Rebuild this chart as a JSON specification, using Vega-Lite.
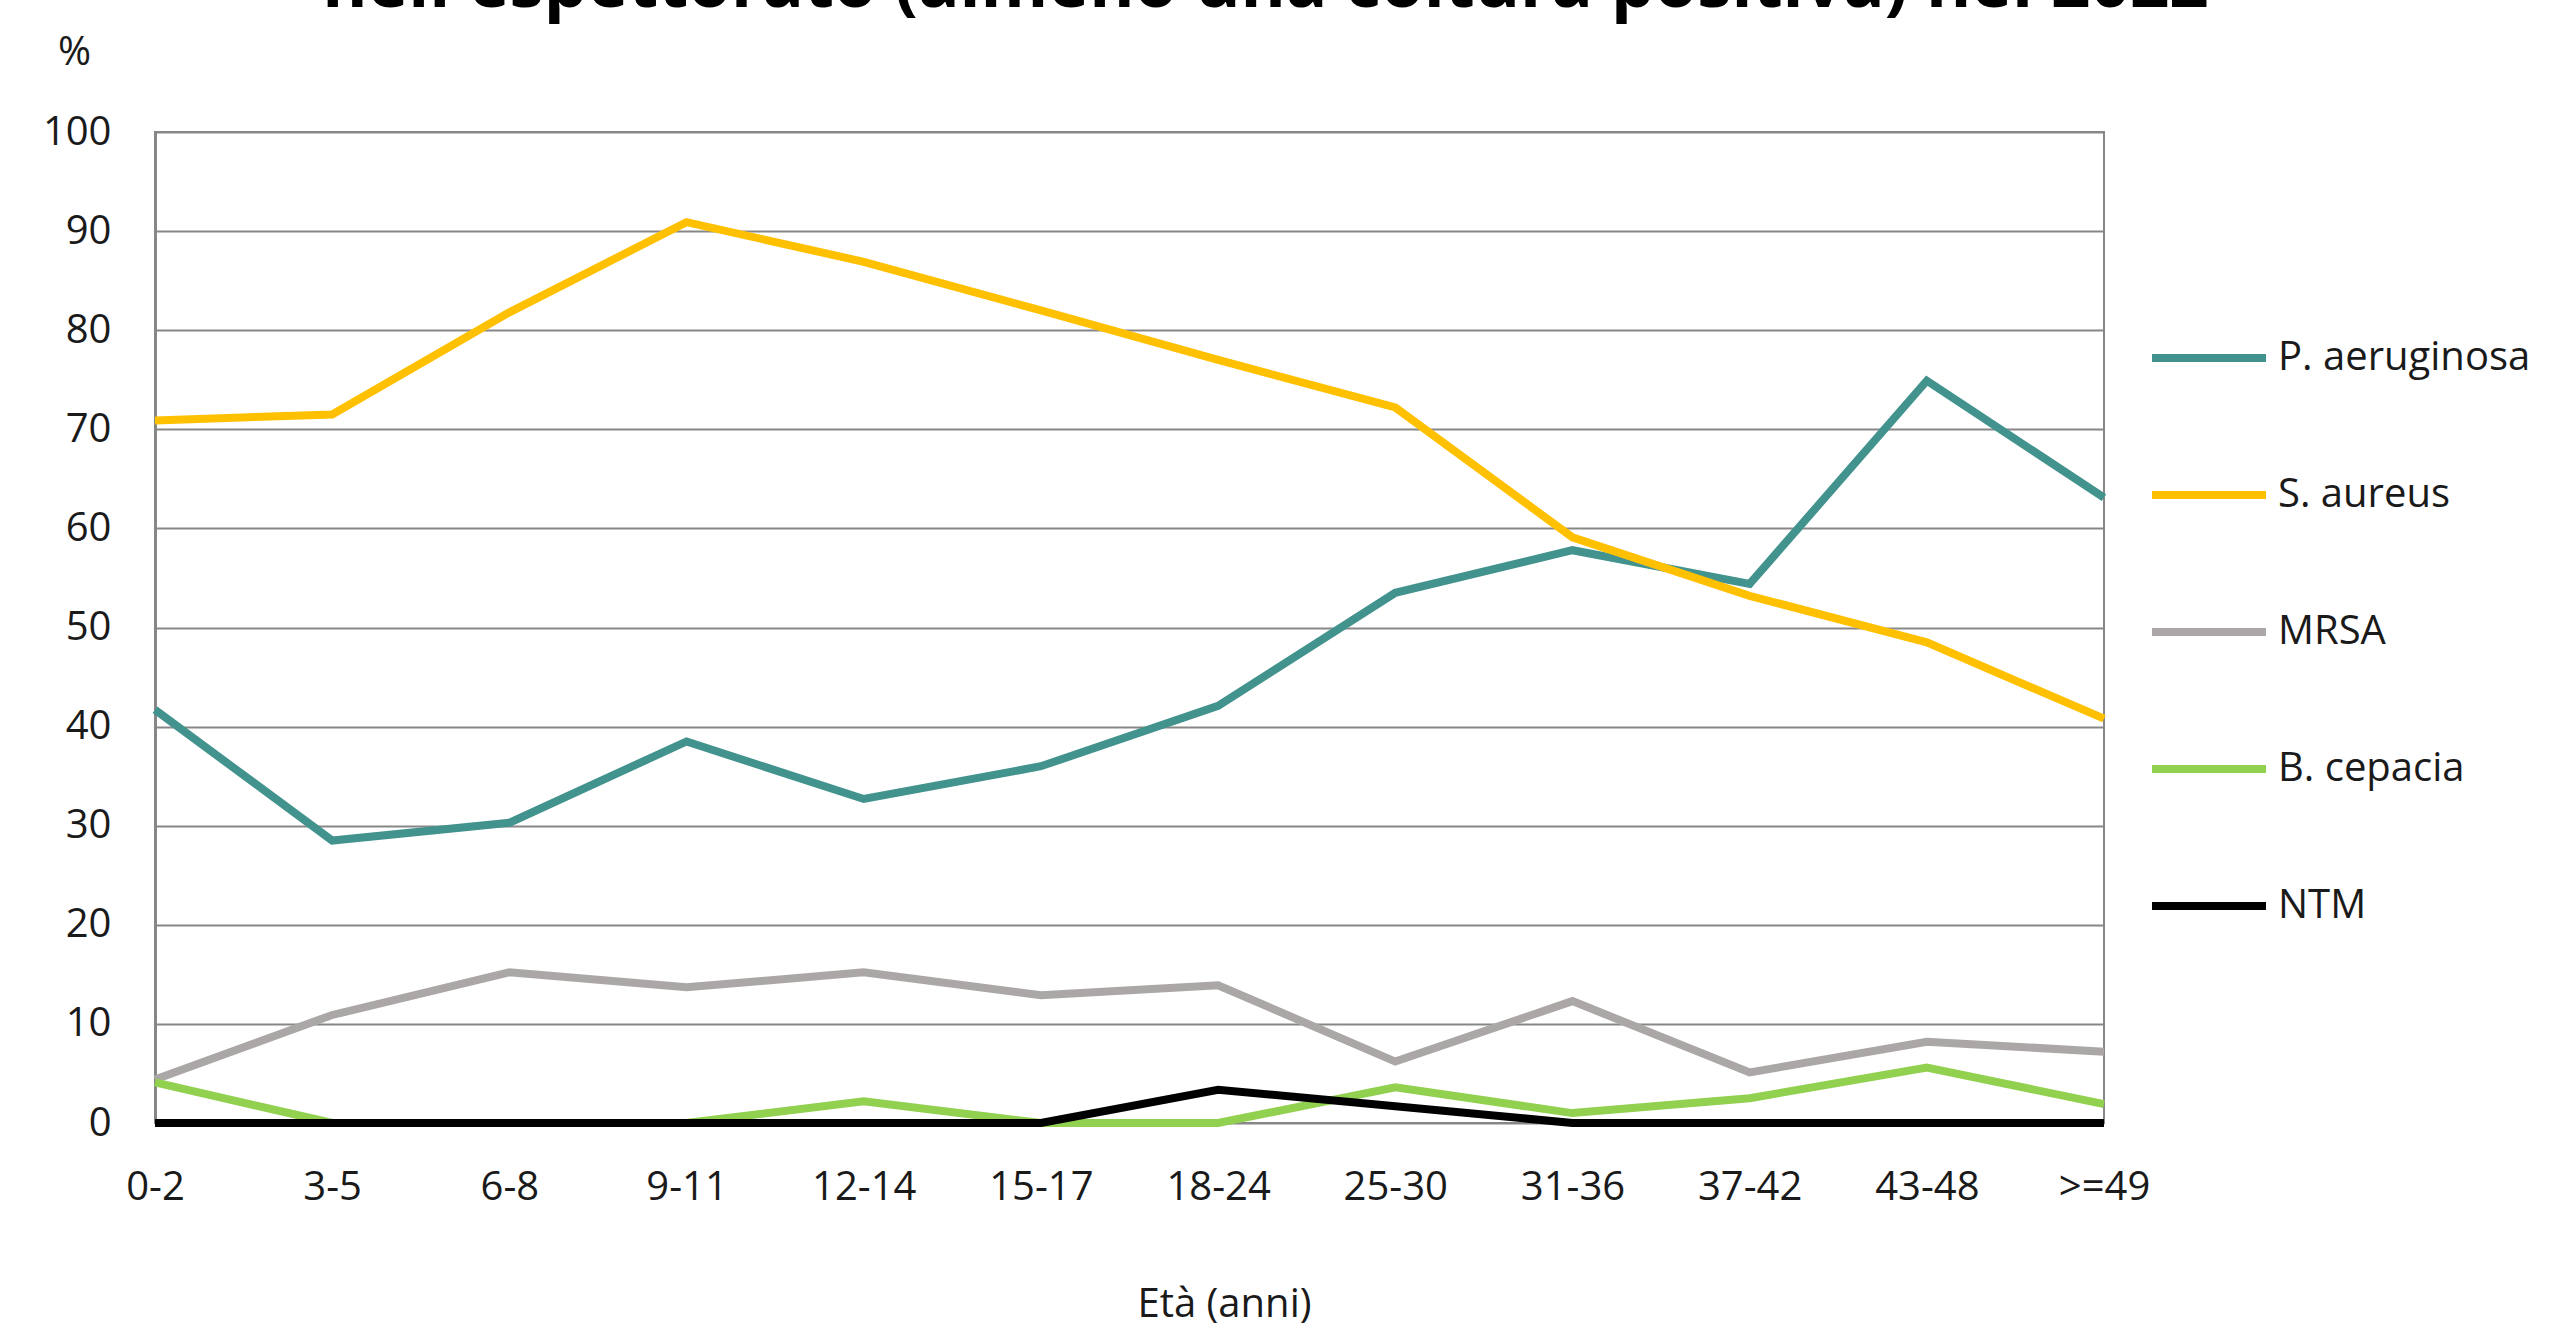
{
  "$schema": "https://vega.github.io/schema/vega-lite/v6.json",
  "width": 1949,
  "height": 991,
  "autosize": {"type": "none"},
  "padding": {"left": 155, "top": 132, "right": 457, "bottom": 203},
  "background": "white",
  "title": {
    "text": "nell'espettorato (almeno una coltura positiva) nel 2022",
    "font": "Open Sans",
    "fontWeight": "bold",
    "fontSize": 69,
    "color": "#000000",
    "anchor": "middle",
    "dx": 136,
    "dy": 44,
    "baseline": "alphabetic",
    "offset": 0
  },
  "config": {
    "font": "Open Sans",
    "view": {"stroke": "#878787", "strokeWidth": 2}
  },
  "data": {
    "values": [
      {"eta": "0-2", "serie": "P. aeruginosa", "valore": 41.7},
      {"eta": "3-5", "serie": "P. aeruginosa", "valore": 28.5},
      {"eta": "6-8", "serie": "P. aeruginosa", "valore": 30.3},
      {"eta": "9-11", "serie": "P. aeruginosa", "valore": 38.5},
      {"eta": "12-14", "serie": "P. aeruginosa", "valore": 32.7},
      {"eta": "15-17", "serie": "P. aeruginosa", "valore": 36.0},
      {"eta": "18-24", "serie": "P. aeruginosa", "valore": 42.1},
      {"eta": "25-30", "serie": "P. aeruginosa", "valore": 53.5},
      {"eta": "31-36", "serie": "P. aeruginosa", "valore": 57.8},
      {"eta": "37-42", "serie": "P. aeruginosa", "valore": 54.4},
      {"eta": "43-48", "serie": "P. aeruginosa", "valore": 74.9},
      {"eta": ">=49", "serie": "P. aeruginosa", "valore": 63.1},
      {"eta": "0-2", "serie": "S. aureus", "valore": 70.9},
      {"eta": "3-5", "serie": "S. aureus", "valore": 71.5},
      {"eta": "6-8", "serie": "S. aureus", "valore": 81.8},
      {"eta": "9-11", "serie": "S. aureus", "valore": 90.9},
      {"eta": "12-14", "serie": "S. aureus", "valore": 86.9},
      {"eta": "15-17", "serie": "S. aureus", "valore": 82.0},
      {"eta": "18-24", "serie": "S. aureus", "valore": 77.0},
      {"eta": "25-30", "serie": "S. aureus", "valore": 72.2},
      {"eta": "31-36", "serie": "S. aureus", "valore": 59.1},
      {"eta": "37-42", "serie": "S. aureus", "valore": 53.2},
      {"eta": "43-48", "serie": "S. aureus", "valore": 48.5},
      {"eta": ">=49", "serie": "S. aureus", "valore": 40.8},
      {"eta": "0-2", "serie": "MRSA", "valore": 4.4},
      {"eta": "3-5", "serie": "MRSA", "valore": 10.9},
      {"eta": "6-8", "serie": "MRSA", "valore": 15.2},
      {"eta": "9-11", "serie": "MRSA", "valore": 13.7},
      {"eta": "12-14", "serie": "MRSA", "valore": 15.2},
      {"eta": "15-17", "serie": "MRSA", "valore": 12.9},
      {"eta": "18-24", "serie": "MRSA", "valore": 13.9},
      {"eta": "25-30", "serie": "MRSA", "valore": 6.2},
      {"eta": "31-36", "serie": "MRSA", "valore": 12.3},
      {"eta": "37-42", "serie": "MRSA", "valore": 5.1},
      {"eta": "43-48", "serie": "MRSA", "valore": 8.2},
      {"eta": ">=49", "serie": "MRSA", "valore": 7.2},
      {"eta": "0-2", "serie": "B. cepacia", "valore": 4.1},
      {"eta": "3-5", "serie": "B. cepacia", "valore": 0},
      {"eta": "6-8", "serie": "B. cepacia", "valore": 0},
      {"eta": "9-11", "serie": "B. cepacia", "valore": 0},
      {"eta": "12-14", "serie": "B. cepacia", "valore": 2.2},
      {"eta": "15-17", "serie": "B. cepacia", "valore": 0},
      {"eta": "18-24", "serie": "B. cepacia", "valore": 0},
      {"eta": "25-30", "serie": "B. cepacia", "valore": 3.6},
      {"eta": "31-36", "serie": "B. cepacia", "valore": 1.0},
      {"eta": "37-42", "serie": "B. cepacia", "valore": 2.5},
      {"eta": "43-48", "serie": "B. cepacia", "valore": 5.6},
      {"eta": ">=49", "serie": "B. cepacia", "valore": 1.9},
      {"eta": "0-2", "serie": "NTM", "valore": 0},
      {"eta": "3-5", "serie": "NTM", "valore": 0},
      {"eta": "6-8", "serie": "NTM", "valore": 0},
      {"eta": "9-11", "serie": "NTM", "valore": 0},
      {"eta": "12-14", "serie": "NTM", "valore": 0},
      {"eta": "15-17", "serie": "NTM", "valore": 0},
      {"eta": "18-24", "serie": "NTM", "valore": 3.35},
      {"eta": "25-30", "serie": "NTM", "valore": 1.7},
      {"eta": "31-36", "serie": "NTM", "valore": 0},
      {"eta": "37-42", "serie": "NTM", "valore": 0},
      {"eta": "43-48", "serie": "NTM", "valore": 0},
      {"eta": ">=49", "serie": "NTM", "valore": 0}
    ]
  },
  "mark": {"type": "line", "strokeWidth": 8, "strokeJoin": "miter", "strokeCap": "butt"},
  "encoding": {
    "x": {
      "field": "eta",
      "type": "ordinal",
      "sort": ["0-2", "3-5", "6-8", "9-11", "12-14", "15-17", "18-24", "25-30", "31-36", "37-42", "43-48", ">=49"],
      "scale": {"type": "point", "padding": 0},
      "axis": {
        "title": "Età (anni)",
        "titleFont": "Open Sans",
        "titleFontSize": 40,
        "titleFontWeight": "normal",
        "titleColor": "#1a1a1a",
        "titleX": 1069,
        "titleY": 181,
        "titleAnchor": null,
        "titleAlign": "center",
        "titleBaseline": "middle",
        "labelAngle": 0,
        "labelFontSize": 40,
        "labelColor": "#1a1a1a",
        "labelPadding": 44,
        "labelBaseline": "top",
        "ticks": false,
        "domain": false,
        "grid": false
      }
    },
    "y": {
      "field": "valore",
      "type": "quantitative",
      "scale": {"domain": [0, 100], "nice": false},
      "axis": {
        "title": "%",
        "titleAngle": 0,
        "titleFontSize": 40,
        "titleFontWeight": "normal",
        "titleColor": "#1a1a1a",
        "titleX": -81,
        "titleY": -80,
        "titleAlign": "center",
        "titleBaseline": "middle",
        "values": [0, 10, 20, 30, 40, 50, 60, 70, 80, 90, 100],
        "labelFontSize": 40,
        "labelColor": "#1a1a1a",
        "labelPadding": 44,
        "ticks": false,
        "domain": true,
        "domainColor": "#878787",
        "domainWidth": 3,
        "grid": true,
        "gridColor": "#878787",
        "gridWidth": 2
      }
    },
    "color": {
      "field": "serie",
      "type": "nominal",
      "sort": ["P. aeruginosa", "S. aureus", "MRSA", "B. cepacia", "NTM"],
      "scale": {
        "domain": ["P. aeruginosa", "S. aureus", "MRSA", "B. cepacia", "NTM"],
        "range": ["#42928E", "#FFC000", "#ABA7A6", "#92D050", "#000000"]
      },
      "legend": {
        "title": null,
        "orient": "none",
        "legendX": 1993,
        "legendY": 165,
        "symbolType": "stroke",
        "symbolSize": 12996,
        "symbolStrokeWidth": 8,
        "labelFontSize": 40,
        "labelColor": "#1a1a1a",
        "labelLimit": 600,
        "labelOffset": 8,
        "rowPadding": 56,
        "padding": 0
      }
    }
  }
}
